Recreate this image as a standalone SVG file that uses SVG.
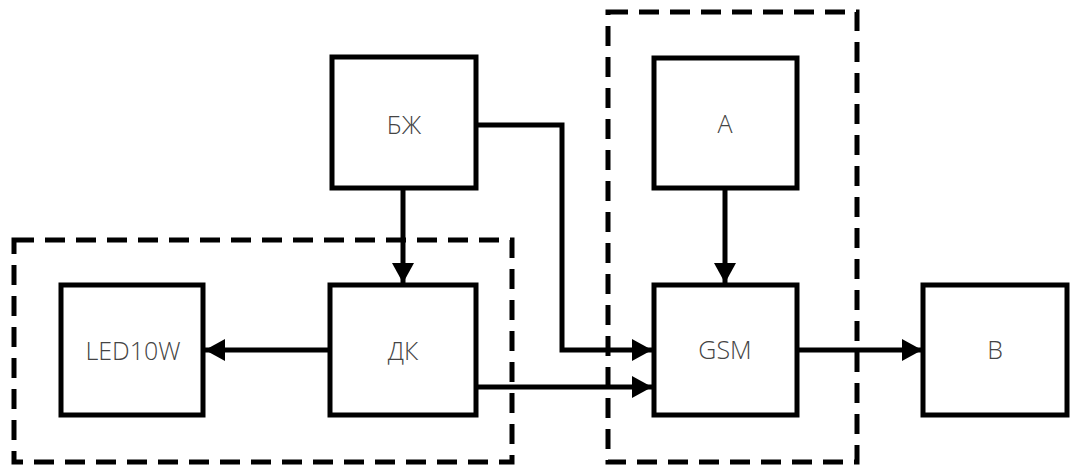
<svg xmlns="http://www.w3.org/2000/svg" width="1071" height="466" viewBox="0 0 1071 466">
<style>
.box{fill:#fff;stroke:#000;stroke-width:5}
.grp{fill:none;stroke:#000;stroke-width:5;stroke-dasharray:20 11}
.lbl{font-family:"Open Sans","Liberation Sans",sans-serif;font-size:25px;font-weight:300;fill:#444;text-anchor:middle}
.con{fill:none;stroke:#000;stroke-width:5}
</style>
<defs>
<marker id="arr" markerUnits="userSpaceOnUse" markerWidth="24" markerHeight="24" viewBox="0 0 24 24" refX="22" refY="12" orient="auto">
<path d="M2,1 L22,12 L2,23 Z" fill="#000"/>
</marker>
</defs>
<rect width="1071" height="466" fill="#fff"/>
<rect class="grp" x="14" y="240" width="498" height="222"/>
<rect class="grp" x="608" y="12" width="249" height="450"/>
<g id="connectors">
<path class="con" d="M403,188 V283" marker-end="url(#arr)"/>
<path class="con" d="M330,350 H205" marker-end="url(#arr)"/>
<path class="con" d="M476,125 H562 V350 H652" marker-end="url(#arr)"/>
<path class="con" d="M476,387 H652" marker-end="url(#arr)"/>
<path class="con" d="M725,188 V283" marker-end="url(#arr)"/>
<path class="con" d="M797,350 H922" marker-end="url(#arr)"/>
</g>
<g id="node-bzh"><rect class="box" x="332" y="57" width="144" height="131"/><text class="lbl" x="404" y="134">БЖ</text></g>
<g id="node-led"><rect class="box" x="61" y="285" width="142" height="130"/><text class="lbl" x="133" y="360">LED10W</text></g>
<g id="node-dk"><rect class="box" x="330" y="285" width="146" height="130"/><text class="lbl" x="403" y="360">ДК</text></g>
<g id="node-a"><rect class="box" x="654" y="58" width="143" height="130"/><text class="lbl" x="725" y="133">А</text></g>
<g id="node-gsm"><rect class="box" x="654" y="285" width="143" height="130"/><text class="lbl" x="725" y="359">GSM</text></g>
<g id="node-b"><rect class="box" x="923" y="285" width="144" height="130"/><text class="lbl" x="995" y="359">В</text></g>
</svg>
